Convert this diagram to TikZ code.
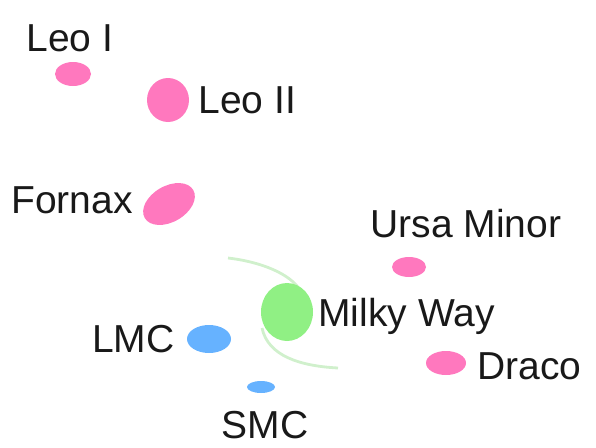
\documentclass[tikz,border=0pt]{standalone}
\usepackage{fontspec}
\setmainfont{Liberation Sans}
\usetikzlibrary{positioning, shapes.geometric}

\definecolor{dwarfpink}{HTML}{FF78BE}
\definecolor{cloudblue}{HTML}{66B2FF}
\definecolor{diskgreen}{HTML}{90F084}
\definecolor{armgreen}{HTML}{D0F0CC}

\begin{document}
\begin{tikzpicture}[
    x=1pt, y=-1pt,
    node distance=10pt,
    galaxy/.style={ellipse, inner sep=0pt, draw=none},
    galname/.style={inner sep=0pt, font=\fontsize{39}{44}\selectfont, text=black!90}
]
    \useasboundingbox (0,0) rectangle (596,447);

    % Spiral arms around the Milky Way
    \draw[armgreen, line width=2.8pt] (228,258) .. controls (262,262) and (290,274) .. (300,290);
    \draw[armgreen, line width=2.8pt] (262,328) .. controls (268,356) and (300,366) .. (338,368);

    % Satellites
    \node[galaxy, fill=dwarfpink, minimum width=36pt, minimum height=24pt] (leoI) at (73,74) {};
    \node[galaxy, fill=dwarfpink, minimum width=42pt, minimum height=44pt] (leoII) at (168,100) {};
    \node[galaxy, fill=dwarfpink, minimum width=56pt, minimum height=36pt, rotate=30] (fornax) at (169,204) {};
    \node[galaxy, fill=dwarfpink, minimum width=34pt, minimum height=20pt] (ursa) at (409,267) {};
    \node[galaxy, fill=dwarfpink, minimum width=40pt, minimum height=24pt] (draco) at (446,363) {};
    \node[galaxy, fill=cloudblue, minimum width=44pt, minimum height=28pt] (lmc) at (209,339) {};
    \node[galaxy, fill=cloudblue, minimum width=28pt, minimum height=12pt] (smc) at (261,387) {};
    \node[galaxy, fill=diskgreen, minimum width=52pt, minimum height=58pt] (mw) at (287,312) {};

    % Labels
    \node[galname, above=10pt of leoI, xshift=-3pt] (leoIname) {Leo I};
    \node[galname, right=9pt of leoII] (leoIIname) {Leo II};
    \node[galname, anchor=east, xshift=-36pt, yshift=4pt] (fornaxname) at (fornax.center) {Fornax};
    \node[galname, above=19pt of ursa, xshift=57pt] (ursaname) {Ursa Minor};
    \node[galname, right=5pt of mw, yshift=-4pt] (mwname) {Milky Way};
    \node[galname, right=11pt of draco, yshift=-3pt] (draconame) {Draco};
    \node[galname, left=12pt of lmc] (lmcname) {LMC};
    \node[galname, below=18pt of smc, xshift=4pt] (smcname) {SMC};
\end{tikzpicture}
\end{document}
